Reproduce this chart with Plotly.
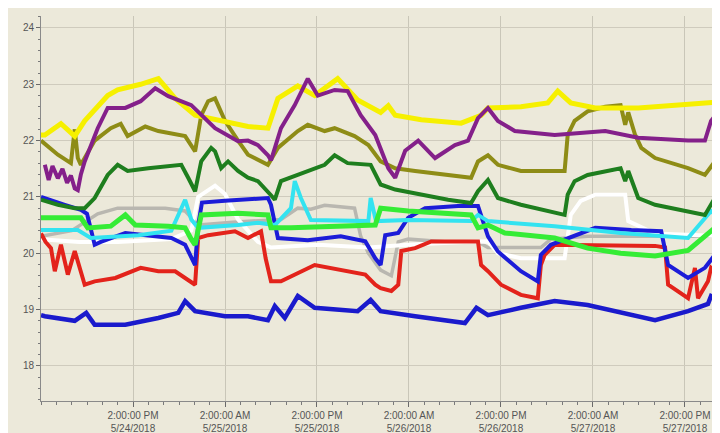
import plotly.graph_objects as go
import pandas as pd

START = pd.Timestamp("2018-05-24 02:00")
END_HOURS = 89.35

# ---- data: hours since 5/24/2018 2:00 AM, temperature values ----
gray_h = [0, 4.0, 7.4, 10.0, 16.2, 18.8, 20.5, 25.0, 31.3, 33.5, 35.2, 37.0, 40.9, 41.7, 42.7, 44.3, 45.7, 46.6, 47.9, 53.1, 57.0, 58.3, 60.5, 65.2, 66.5, 71.3, 80.1, 89.6]
gray_v = [20.3, 20.4, 20.7, 20.8, 20.8, 20.75, 20.5, 20.55, 20.6, 20.8, 20.78, 20.85, 20.8, 20.3, 20.0, 19.7, 19.6, 20.2, 20.25, 20.2, 20.2, 20.1, 20.1, 20.1, 20.25, 20.3, 20.3, 20.3]

white_h = [0, 5.0, 10.0, 17.0, 19.6, 20.5, 22.7, 24.0, 25.7, 28.3, 30.0, 36.1, 42.7, 47.9, 55.3, 58.3, 59.6, 62.6, 68.3, 69.1, 70.4, 72.3, 76.2, 76.6, 80.1, 89.6]
white_v = [20.25, 20.2, 20.2, 20.25, 20.4, 21.0, 21.2, 21.05, 20.6, 20.2, 20.1, 20.15, 20.1, 20.15, 20.2, 20.21, 20.0, 19.91, 19.91, 20.68, 20.93, 21.04, 21.04, 20.57, 20.35, 20.3]

red_h = [0, 0.6, 1.3, 1.8, 2.6, 3.5, 4.4, 5.7, 7.0, 9.7, 13.0, 15.3, 17.5, 18.8, 20.1, 20.5, 21.8, 25.3, 27.0, 28.7, 29.3, 30.0, 31.3, 35.7, 40.0, 42.3, 43.6, 44.3, 45.7, 46.6, 47.0, 48.8, 50.9, 55.3, 57.0, 57.4, 58.3, 60.0, 62.6, 64.8, 65.2, 65.7, 67.0, 80.1, 81.4, 81.8, 84.4, 85.3, 85.7, 87.0, 87.4, 89.6]
red_v = [20.35, 20.2, 20.09, 19.68, 20.15, 19.62, 20.04, 19.44, 19.5, 19.56, 19.74, 19.68, 19.68, 19.56, 19.44, 20.27, 20.32, 20.39, 20.27, 20.39, 19.91, 19.5, 19.5, 19.79, 19.68, 19.62, 19.44, 19.38, 19.33, 19.44, 20.04, 20.09, 20.21, 20.21, 20.21, 19.79, 19.68, 19.44, 19.26, 19.2, 19.79, 19.97, 20.15, 20.13, 20.1, 19.44, 19.2, 19.74, 19.2, 19.5, 19.74, 19.5]

navy_h = [0, 0.5, 4.4, 5.9, 7.0, 11.0, 15.3, 17.9, 18.8, 20.1, 24.0, 27.0, 29.6, 30.5, 31.8, 33.5, 35.7, 41.3, 43.0, 44.3, 48.8, 55.3, 56.8, 58.3, 62.6, 67.0, 71.3, 75.6, 80.1, 84.4, 87.0, 87.4, 89.6]
navy_v = [18.9, 18.88, 18.8, 18.94, 18.73, 18.73, 18.85, 18.94, 19.15, 18.97, 18.88, 18.88, 18.81, 19.06, 18.85, 19.24, 19.03, 18.97, 19.17, 18.97, 18.88, 18.76, 19.03, 18.9, 19.03, 19.15, 19.08, 18.94, 18.81, 18.97, 19.1, 19.24, 19.1]

blue_h = [0, 0.5, 3.1, 5.2, 6.0, 7.0, 7.8, 11.0, 17.0, 18.8, 19.6, 20.1, 20.5, 21.0, 24.0, 29.6, 30.0, 30.9, 34.8, 39.1, 42.3, 43.6, 44.3, 44.9, 46.6, 47.9, 50.1, 54.4, 57.0, 58.3, 59.6, 62.6, 64.8, 65.2, 66.5, 69.6, 72.3, 77.0, 80.9, 81.8, 84.4, 86.6, 87.9, 89.6]
blue_v = [21.0, 20.98, 20.86, 20.77, 20.7, 20.15, 20.2, 20.36, 20.27, 20.15, 19.91, 19.79, 20.5, 20.9, 20.93, 20.98, 20.86, 20.27, 20.23, 20.3, 20.21, 19.91, 19.79, 20.32, 20.36, 20.63, 20.8, 20.84, 20.84, 20.3, 20.03, 19.68, 19.5, 19.97, 20.15, 20.32, 20.45, 20.41, 20.39, 19.79, 19.56, 19.74, 19.97, 20.03]

cyan_h = [0, 4.8, 6.5, 10.4, 12.7, 17.0, 18.8, 19.6, 20.5, 25.7, 28.3, 30.5, 32.6, 33.1, 33.9, 35.2, 42.7, 43.0, 43.7, 47.9, 56.1, 57.0, 58.3, 67.0, 75.6, 84.4, 87.4, 89.6]
cyan_v = [20.41, 20.41, 20.27, 20.3, 20.32, 20.4, 20.95, 20.6, 20.45, 20.5, 20.54, 20.5, 20.8, 21.28, 20.98, 20.59, 20.57, 20.98, 20.57, 20.59, 20.57, 20.68, 20.57, 20.48, 20.36, 20.27, 20.75, 20.5]

lime_h = [0, 5.2, 6.1, 9.1, 11.0, 12.3, 16.6, 18.8, 19.6, 20.1, 20.9, 25.7, 29.6, 30.0, 32.6, 43.6, 44.3, 47.9, 56.1, 57.0, 58.3, 60.5, 67.0, 71.3, 75.6, 80.1, 84.4, 87.9, 89.6]
lime_v = [20.63, 20.63, 20.45, 20.48, 20.68, 20.5, 20.48, 20.45, 20.25, 20.15, 20.68, 20.71, 20.68, 20.45, 20.45, 20.5, 20.8, 20.75, 20.68, 20.45, 20.5, 20.36, 20.27, 20.09, 20.0, 19.95, 20.05, 20.45, 20.32]

green_h = [0, 2.2, 4.4, 5.7, 7.0, 8.7, 10.0, 11.3, 14.0, 18.3, 19.2, 20.1, 20.9, 22.2, 22.7, 23.5, 24.4, 25.7, 27.0, 28.3, 30.0, 30.5, 31.3, 33.5, 37.0, 38.3, 40.0, 43.0, 44.3, 46.2, 49.6, 53.1, 56.1, 57.0, 58.3, 59.6, 62.6, 68.3, 68.7, 69.6, 71.3, 75.6, 76.2, 76.6, 77.9, 80.1, 86.6, 87.9, 89.6]
green_v = [20.95, 20.86, 20.8, 20.8, 20.98, 21.39, 21.57, 21.46, 21.51, 21.57, 21.34, 21.1, 21.63, 21.87, 21.81, 21.51, 21.63, 21.46, 21.34, 21.28, 21.03, 20.95, 21.28, 21.39, 21.57, 21.74, 21.6, 21.57, 21.22, 21.13, 21.04, 20.95, 20.89, 21.1, 21.3, 20.98, 20.86, 20.68, 21.04, 21.28, 21.39, 21.51, 21.28, 21.46, 20.98, 20.86, 20.68, 20.98, 21.16]

olive_h = [0, 2.2, 3.9, 4.4, 4.8, 5.2, 7.0, 9.1, 10.4, 11.3, 13.6, 15.3, 18.8, 20.1, 20.9, 21.8, 22.7, 23.5, 24.0, 25.7, 27.0, 29.6, 30.9, 33.5, 34.8, 37.0, 38.3, 40.9, 42.7, 44.3, 46.2, 48.8, 53.1, 56.1, 57.0, 58.3, 59.6, 62.6, 68.3, 68.7, 69.6, 71.3, 73.6, 75.6, 76.2, 76.6, 77.5, 78.3, 80.1, 84.4, 86.6, 87.9, 89.6]
olive_v = [22.0, 21.75, 21.6, 22.2, 21.69, 21.57, 22.0, 22.22, 22.3, 22.08, 22.25, 22.17, 22.08, 21.81, 22.45, 22.7, 22.75, 22.52, 22.35, 22.0, 21.75, 21.57, 21.87, 22.17, 22.28, 22.17, 22.22, 22.08, 21.92, 21.63, 21.51, 21.46, 21.39, 21.34, 21.63, 21.74, 21.57, 21.46, 21.46, 22.1, 22.35, 22.52, 22.6, 22.63, 22.28, 22.5, 22.1, 21.87, 21.69, 21.51, 21.39, 21.63, 21.81]

yellow_h = [0, 0.5, 2.6, 4.4, 5.7, 8.7, 10.0, 13.0, 15.3, 17.5, 20.1, 23.5, 27.0, 29.6, 30.9, 33.5, 35.7, 38.7, 41.3, 44.3, 45.3, 46.2, 49.6, 54.8, 57.4, 58.3, 62.6, 66.1, 67.4, 69.1, 72.3, 77.9, 82.2, 89.6]
yellow_v = [22.1, 22.1, 22.3, 22.08, 22.35, 22.8, 22.9, 23.0, 23.1, 22.75, 22.45, 22.35, 22.25, 22.22, 22.75, 22.97, 22.8, 23.1, 22.72, 22.5, 22.62, 22.45, 22.37, 22.31, 22.45, 22.58, 22.6, 22.67, 22.88, 22.67, 22.58, 22.58, 22.63, 22.7]

purple_h = [0.5, 1.0, 1.5, 2.2, 2.8, 3.4, 3.9, 4.4, 4.8, 5.2, 5.7, 7.4, 8.7, 11.0, 13.0, 14.9, 16.6, 19.6, 22.7, 25.7, 27.0, 28.3, 29.6, 30.0, 31.3, 33.1, 34.8, 36.1, 38.3, 40.0, 41.7, 43.6, 45.3, 46.2, 47.5, 49.2, 51.4, 54.0, 55.7, 57.0, 58.3, 59.6, 61.8, 67.0, 73.6, 77.9, 84.4, 86.6, 87.4, 88.7, 89.6]
purple_v = [21.57, 21.3, 21.55, 21.33, 21.5, 21.25, 21.38, 21.15, 21.12, 21.4, 21.63, 22.22, 22.58, 22.58, 22.7, 22.93, 22.79, 22.63, 22.22, 21.99, 22.0, 21.92, 21.74, 21.65, 22.22, 22.63, 23.1, 22.8, 22.9, 22.88, 22.45, 22.1, 21.51, 21.34, 21.82, 22.0, 21.69, 21.92, 22.0, 22.4, 22.58, 22.35, 22.17, 22.1, 22.17, 22.05, 22.0, 22.0, 22.35, 22.58, 22.6]

tick_times = ["2018-05-24 14:00", "2018-05-25 02:00", "2018-05-25 14:00", "2018-05-26 02:00",
              "2018-05-26 14:00", "2018-05-27 02:00", "2018-05-27 14:00"]
tick_labels = ["2:00:00 PM<br>5/24/2018", "2:00:00 AM<br>5/25/2018", "2:00:00 PM<br>5/25/2018",
               "2:00:00 AM<br>5/26/2018", "2:00:00 PM<br>5/26/2018", "2:00:00 AM<br>5/27/2018",
               "2:00:00 PM<br>5/27/2018"]
y_ticks = [18, 19, 20, 21, 22, 23, 24]


def to_time(hours):
    return [START + pd.Timedelta(hours=h) for h in hours]


series = [
    (gray_h, gray_v, "#B9B7B0", 3.5),
    (white_h, white_v, "#FFFFFF", 4),
    (red_h, red_v, "#E3231B", 4),
    (navy_h, navy_v, "#1A1ACC", 4.5),
    (blue_h, blue_v, "#1C1CD8", 4),
    (cyan_h, cyan_v, "#33E3F0", 4),
    (lime_h, lime_v, "#35EC35", 5),
    (green_h, green_v, "#1E7E1E", 4),
    (olive_h, olive_v, "#8E8C16", 4),
    (yellow_h, yellow_v, "#F6F000", 5),
    (purple_h, purple_v, "#84208A", 4),
]

fig = go.Figure()
for h, v, color, w in series:
    fig.add_trace(go.Scatter(x=to_time(h), y=v, mode="lines",
                             line=dict(color=color, width=w), showlegend=False,
                             hoverinfo="skip"))

BG = "#ECE9DA"
fig.update_layout(
    width=720, height=433,
    margin=dict(l=33, r=2, t=8, b=40),
    paper_bgcolor=BG, plot_bgcolor=BG,
    font=dict(family="Liberation Sans, Arial, sans-serif", size=10, color="#4A4A4A"),
    showlegend=False,
)
fig.update_xaxes(
    type="date",
    range=[START, START + pd.Timedelta(hours=END_HOURS)],
    tickmode="array", tickvals=tick_times, ticktext=tick_labels,
    showgrid=True, gridcolor="#C9C6B8", gridwidth=1,
    showline=True, linecolor="#8A8A8A", linewidth=1,
    ticks="outside", ticklen=5, tickcolor="#6A6A6A",
    minor=dict(ticks="outside", ticklen=3, tickcolor="#7A7A7A",
               dtick=2 * 3600 * 1000, tick0="2018-05-24 02:00", showgrid=False),
    zeroline=False,
    tickfont=dict(size=10, color="#555555"),
)
fig.update_yaxes(
    range=[17.375, 24.213],
    tickmode="array", tickvals=y_ticks,
    showgrid=True, gridcolor="#CFCBBD", gridwidth=1,
    showline=True, linecolor="#8A8A8A", linewidth=1,
    ticks="outside", ticklen=4, tickcolor="#6A6A6A",
    minor=dict(ticks="outside", ticklen=2, tickcolor="#7A7A7A", dtick=0.2, showgrid=False),
    zeroline=False,
    tickfont=dict(size=10, color="#555555"),
)

fig.write_html("out.html")
